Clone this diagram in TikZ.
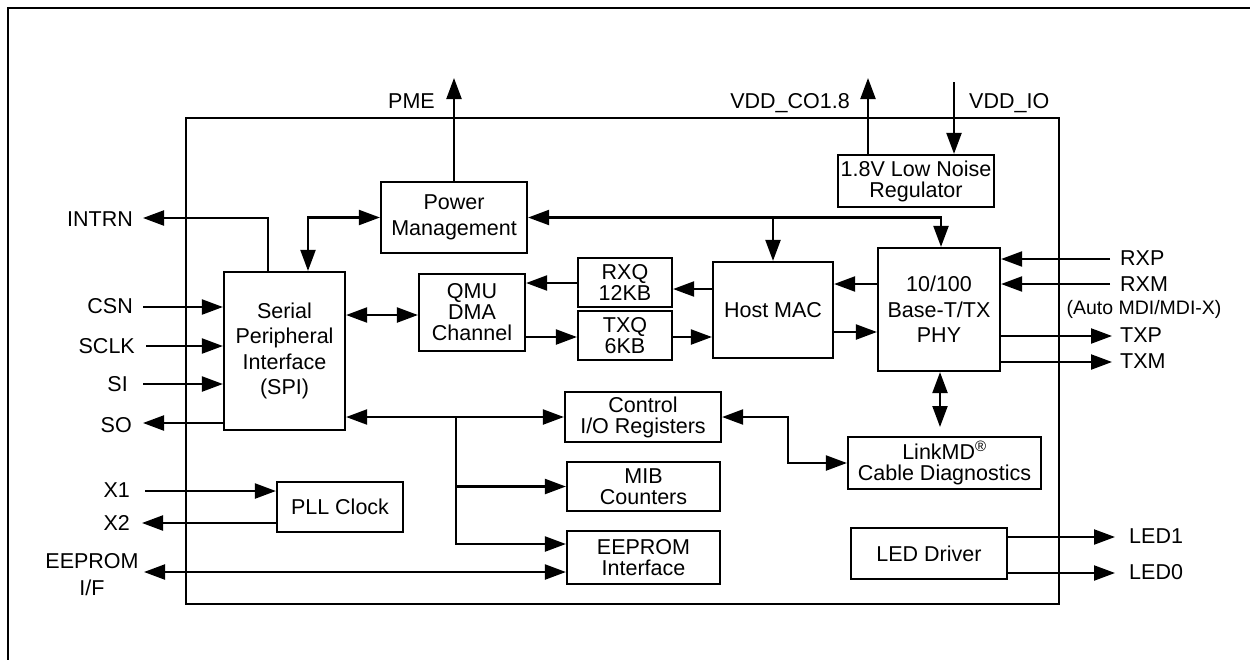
\documentclass[tikz,border=0pt]{standalone}
\usepackage{fontspec}
\setmainfont{Liberation Sans}
\usetikzlibrary{arrows.meta}
\begin{document}
\begin{tikzpicture}[x=1pt,y=-1pt,
  blk/.style={draw, line width=2.2pt, align=center, inner sep=0pt, font=\fontsize{21.5}{21}\selectfont},
  wide/.style={font=\fontsize{21.5}{25.5}\selectfont},
  lbl/.style={inner sep=0pt, font=\fontsize{21.5}{26}\selectfont, align=center},
  small/.style={inner sep=0pt, font=\fontsize{19.5}{22}\selectfont},
  ln/.style={line width=2.2pt},
  arr/.style={ln, -{Triangle[length=21pt,width=15pt]}},
  darr/.style={ln, {Triangle[length=21pt,width=15pt]}-{Triangle[length=21pt,width=15pt]}},
]
\useasboundingbox (0,0) rectangle (1250,659);
% outer frame (cropped)
\draw[line width=2.6pt] (8,680) -- (8,8) -- (1270,8);
% chip
\node[draw, line width=2.2pt, minimum width=873, minimum height=486, inner sep=0pt] (chip) at (622.5,361) {};

% blocks
\node[blk, wide, minimum width=146, minimum height=71] (pm) at (454,217.5) {Power\\Management};
\node[blk, minimum width=156, minimum height=52] (reg) at (916,181) {1.8V Low Noise\\Regulator};
\node[blk, wide, minimum width=121, minimum height=158] (spi) at (284.5,351) {Serial\\Peripheral\\Interface\\(SPI)};
\node[blk, minimum width=106, minimum height=77] (qmu) at (472,312.5) {QMU\\DMA\\Channel};
\node[blk, minimum width=94, minimum height=49] (rxq) at (625,282.5) {RXQ\\12KB};
\node[blk, minimum width=94, minimum height=49] (txq) at (625,335.5) {TXQ\\6KB};
\node[blk, minimum width=120, minimum height=96] (mac) at (773,310) {Host MAC};
\node[blk, wide, minimum width=122, minimum height=123] (phy) at (939,309.5) {10/100\\Base-T/TX\\PHY};
\node[blk, minimum width=156, minimum height=50] (ctrl) at (643,417) {Control\\I/O Registers};
\node[blk, minimum width=153, minimum height=49] (mib) at (643.5,486.5) {MIB\\Counters};
\node[blk, minimum width=153, minimum height=53] (eep) at (643.5,557.5) {EEPROM\\Interface};
\node[blk, minimum width=126, minimum height=50] (pll) at (340,507) {PLL Clock};
\node[blk, minimum width=193, minimum height=52] (lmd) at (944.5,463) {LinkMD\textsuperscript{\textregistered}\\Cable Diagnostics};
\node[blk, minimum width=156, minimum height=51] (led) at (929,553.5) {LED Driver};

% labels
\node[lbl, anchor=base east] (lpme) at (435,108) {PME};
\node[lbl, anchor=base east] (lvco) at (850,108) {VDD\_CO1.8};
\node[lbl, anchor=base west] (lvio) at (969,108) {VDD\_IO};
\node[lbl, anchor=east] (lintrn) at (133,219) {INTRN};
\node[lbl, anchor=east] (lcsn) at (133,306) {CSN};
\node[lbl, anchor=east] (lsclk) at (135,346) {SCLK};
\node[lbl, anchor=east] (lsi) at (128,384) {SI};
\node[lbl, anchor=east] (lso) at (132,425) {SO};
\node[lbl, anchor=east] (lx1) at (130,490) {X1};
\node[lbl, anchor=east] (lx2) at (130,523) {X2};
\node[lbl, font=\fontsize{21.5}{27}\selectfont] (leif) at (92,575) {EEPROM\\I/F};
\node[lbl, anchor=west] (lrxp) at (1120,258) {RXP};
\node[lbl, anchor=west] (lrxm) at (1120,284) {RXM};
\node[small] (lauto) at (1144,309) {(Auto MDI/MDI-X)};
\node[lbl, anchor=west] (ltxp) at (1120,335) {TXP};
\node[lbl, anchor=west] (ltxm) at (1120,361) {TXM};
\node[lbl, anchor=west] (lled1) at (1129,536) {LED1};
\node[lbl, anchor=west] (lled0) at (1129,572) {LED0};

% free ends
\coordinate (pmeT) at (454,78);
\coordinate (vcoT) at (868,78);
\coordinate (vioS) at (954,82);
\coordinate (intrnT) at (143,218);
\coordinate (csnS) at (143,307);
\coordinate (sclkS) at (146,346);
\coordinate (siS) at (143,384);
\coordinate (soE) at (143,423);
\coordinate (x1S) at (145,491);
\coordinate (x2E) at (142,523);
\coordinate (eifE) at (144,572);
\coordinate (rxpS) at (1110,259);
\coordinate (rxmS) at (1110,284);
\coordinate (txpE) at (1112,336);
\coordinate (txmE) at (1112,362);
\coordinate (led1E) at (1115,537);
\coordinate (led0E) at (1115,573);
\coordinate (lmdT) at (940,427);

% connectors
\draw[arr] (pm.north) -- (pmeT);
\draw[arr] (reg.north -| vcoT) -- (vcoT);
\draw[arr] (vioS) -- (reg.north -| vioS);
\draw[arr] (spi.north -| 268,0) |- (intrnT);
\draw[darr] (spi.north -| 308,0) |- (pm.west);
\draw[darr] (pm.east) -| (phy.north -| 941,0);
\draw[arr] (mac.north |- pm.east) -- (mac.north);
\draw[arr] (csnS) -- (csnS -| spi.west);
\draw[arr] (sclkS) -- (sclkS -| spi.west);
\draw[arr] (siS) -- (siS -| spi.west);
\draw[arr] (soE -| spi.west) -- (soE);
\draw[darr] (spi.east |- 0,315) -- (qmu.west |- 0,315);
\draw[arr] (rxq.west |- 0,283) -- (qmu.east |- 0,283);
\draw[arr] (qmu.east |- 0,337) -- (txq.west |- 0,337);
\draw[arr] (mac.west |- 0,289) -- (rxq.east |- 0,289);
\draw[arr] (txq.east |- 0,337) -- (mac.west |- 0,337);
\draw[arr] (phy.west |- 0,284) -- (mac.east |- 0,284);
\draw[arr] (mac.east |- 0,332) -- (phy.west |- 0,332);
\draw[arr] (rxpS) -- (rxpS -| phy.east);
\draw[arr] (rxmS) -- (rxmS -| phy.east);
\draw[arr] (txpE -| phy.east) -- (txpE);
\draw[arr] (txmE -| phy.east) -- (txmE);
\draw[darr] (phy.south -| lmdT) -- (lmdT);
\draw[darr] (spi.east |- ctrl.west) -- (ctrl.west);
\draw[arr] (ctrl.west -| 456,0) |- (eep.west |- 0,544);
\draw[arr] (mib.west -| 456,0) -- (mib.west);
\draw[darr] (ctrl.east) -- (ctrl.east -| 788,0) |- (lmd.west);
\draw[darr] (eifE) -- (eifE -| eep.west);
\draw[arr] (x1S) -- (x1S -| pll.west);
\draw[arr] (pll.west |- x2E) -- (x2E);
\draw[arr] (led.east |- led1E) -- (led1E);
\draw[arr] (led.east |- led0E) -- (led0E);
\end{tikzpicture}
\end{document}
